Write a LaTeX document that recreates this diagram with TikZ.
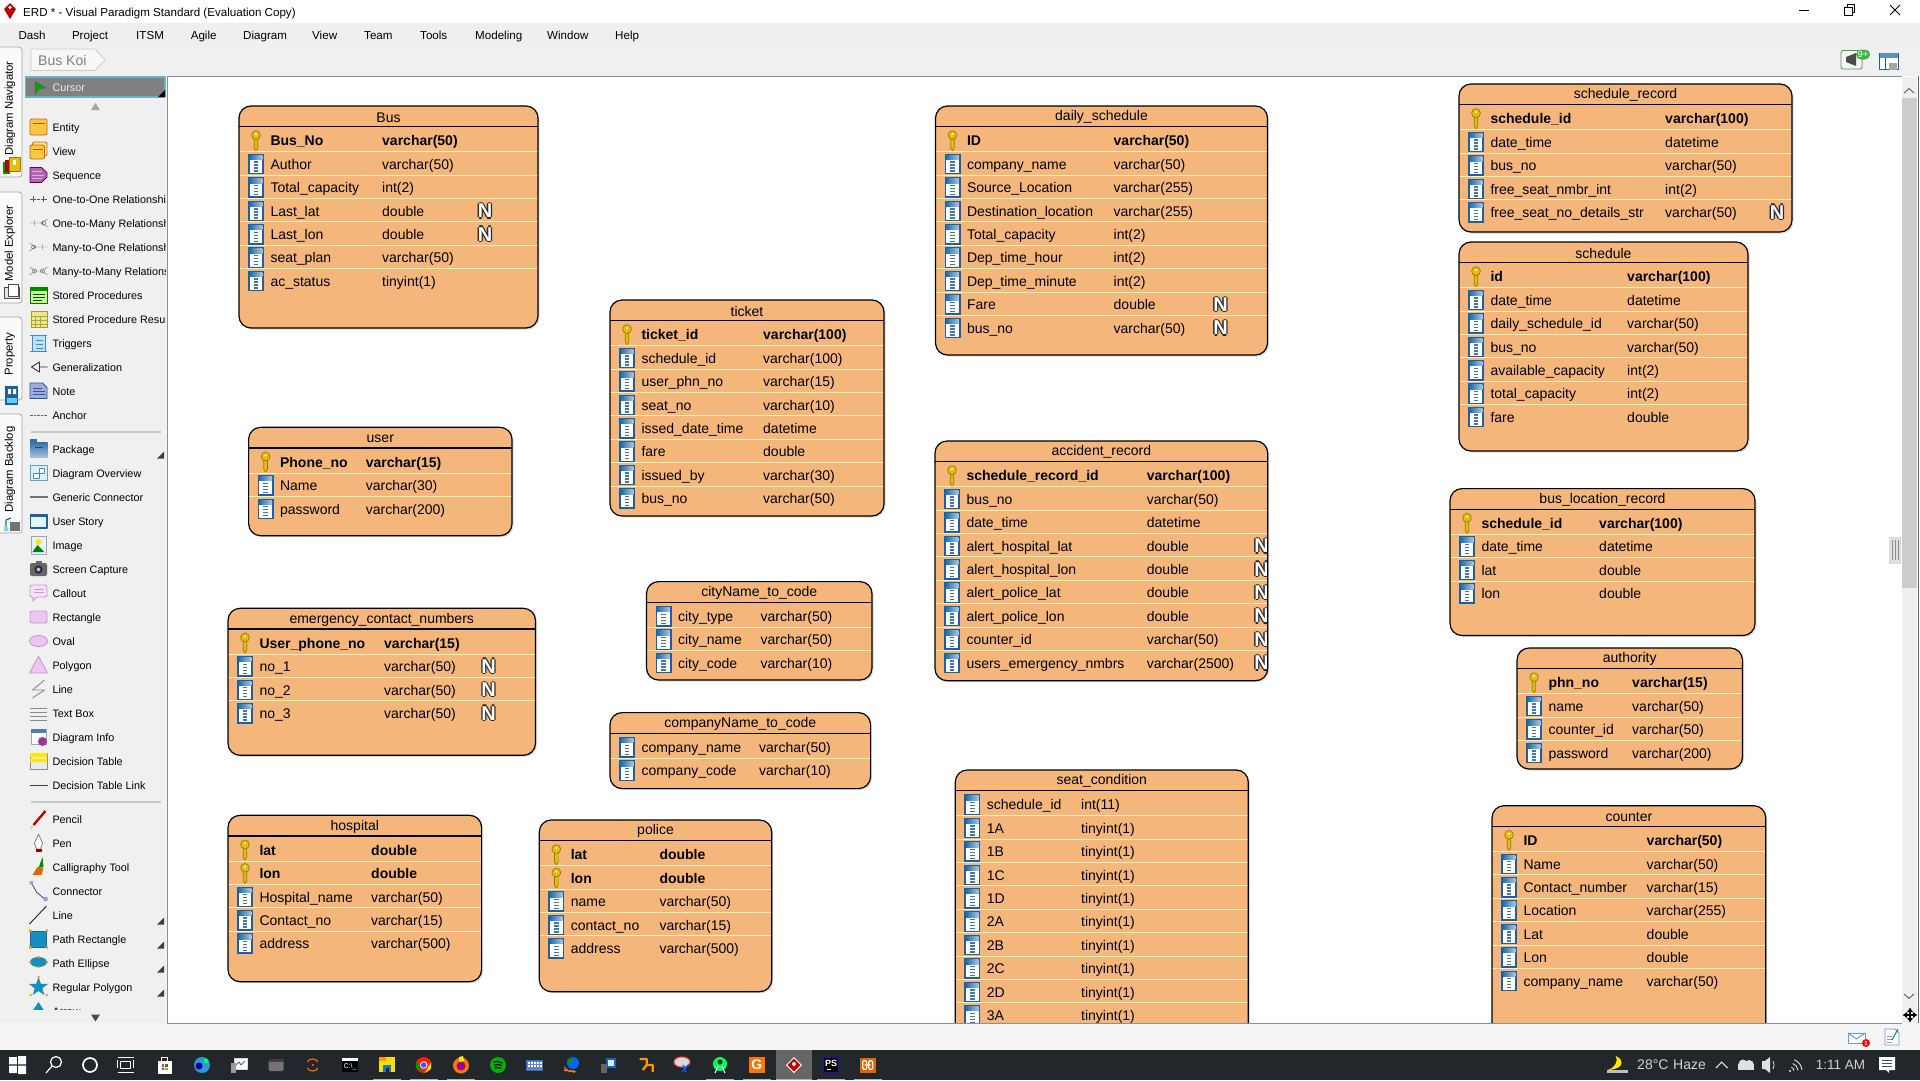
\documentclass[tikz,border=0pt]{standalone}
\usepackage{fontspec}
\setmainfont{Liberation Sans}
\usetikzlibrary{arrows.meta,positioning,calc}
\catcode`\_=12

\definecolor{erdfill}{HTML}{F4B67B}
\definecolor{erdrule}{HTML}{FFF3B8}
\definecolor{iconblue}{HTML}{1C5FA5}
\definecolor{keygold}{HTML}{E6BE0A}
\definecolor{keydark}{HTML}{9A7A10}
\definecolor{paneback}{HTML}{F0F0F0}
\definecolor{menuback}{HTML}{EFEFEF}
\definecolor{edgegray}{HTML}{8C8F94}
\definecolor{pinkfill}{HTML}{EBC8F2}
\definecolor{pinkline}{HTML}{C79AD6}
\definecolor{taskback}{HTML}{22272B}
\definecolor{nullink}{HTML}{2A2A2A}

\tikzset{
  erdtitle/.style={inner sep=0pt,font=\fontsize{14}{16}\selectfont},
  erdfield/.style={anchor=base west,inner sep=0pt,font=\fontsize{14}{16}\selectfont},
  erdkey/.style={anchor=base west,inner sep=0pt,font=\fontsize{14}{16}\selectfont\bfseries},
  erdnull/.style={inner sep=0pt,font=\fontsize{20}{22}\selectfont\bfseries},
  pallabel/.style={anchor=base west,inner sep=0pt,font=\fontsize{10.8}{14}\selectfont},
  menulabel/.style={anchor=base west,inner sep=0pt,font=\fontsize{11.6}{14}\selectfont},
  tablabel/.style={rotate=90,inner sep=0pt,font=\fontsize{11.3}{14}\selectfont},
  traylabel/.style={anchor=west,inner sep=0pt,text=black!18,font=\fontsize{14}{16}\selectfont},
  pics/colicon/.style={code={
    \fill[iconblue] (-8,-10.3) rectangle (8,10.3);
    \fill[white] (-6.4,-4.5) rectangle (6.4,8.8);
    \shade[left color=iconblue!90!cyan,right color=iconblue!35] (-6.4,-8.8) rectangle (6.4,-4.5);
    \foreach \dy in {-2,1,4,7}{\fill[iconblue!85] (-2.4,\dy-.8) rectangle (2.4,\dy+.6);}
  }},
  pics/keyicon/.style={code={
    \fill[keygold,draw=keydark,line width=.7pt] (-1.8,-4) -- (1.8,-4) -- (1.8,7.5) -- (0,10) -- (-1.8,7.5) -- cycle;
    \fill[keygold,draw=keydark,line width=.7pt] (0,-5.6) circle (4.4);
    \fill[white] (0,-6.6) circle (1.1);
  }},
}

\newcommand{\nullglyph}{\textcolor{nullink}{N}}
\newcommand{\nullmark}{\rlap{\kern-1.3pt\nullglyph}\rlap{\kern1.3pt\nullglyph}\rlap{\raisebox{1.3pt}{\nullglyph}}\rlap{\raisebox{-1.3pt}{\nullglyph}}\textcolor{white}{N}}

% name, left, top, right, bottom, type column, N column, title, rows
\newcommand{\erdtable}[9]{
  \fill[black!14,rounded corners=12] (#2+1.5,#3+1.5) rectangle (#4+1.5,#5+1.5);
  \fill[erdfill,rounded corners=12] (#2,#3) rectangle (#4,#5);
  \begin{scope}
    \clip[rounded corners=12] (#2,#3) rectangle (#4,#5);
    \draw[line width=1.2pt] (#2,#3+20.7) -- (#4,#3+20.7);
    \node[erdtitle] (#1) at ({(#2+#4)/2},#3+11.3) {#8};
    \foreach \kind/\field/\dtype [count=\i from 0] in {#9}{
      \pgfmathsetmacro\rowy{#3+20.7+14+23.4*\i}
      \ifnum\i>0 \draw[erdrule,line width=1pt] (#2,\rowy-12.4) -- (#4,\rowy-12.4); \fi
      \def\kindk{k}\def\kindn{n}
      \ifx\kind\kindk
        \pic at (#2+17,\rowy) {keyicon};
        \node[erdkey] (#1-\i-f) at (#2+31.3,\rowy+5.2) {\field};
        \node[erdkey] (#1-\i-t) at (#2+#6,\rowy+5.2) {\dtype};
      \else
        \pic at (#2+17,\rowy) {colicon};
        \node[erdfield] (#1-\i-f) at (#2+31.3,\rowy+5.2) {\field};
        \node[erdfield] (#1-\i-t) at (#2+#6,\rowy+5.2) {\dtype};
      \fi
      \ifx\kind\kindn
        \node[erdnull] (#1-\i-n) at (#2+#7,\rowy) {\nullmark};
      \fi
    }
  \end{scope}
  \draw[line width=1.2pt,rounded corners=12] (#2,#3) rectangle (#4,#5);
}
\newcommand{\palicon}[2]{\begin{scope}[shift={(38.5,#1)}] #2 \end{scope}}
\newcommand{\tbicon}[2]{\begin{scope}[shift={(#1,1065)}] #2 \end{scope}}

\begin{document}
\begin{tikzpicture}[x=1pt,y=-1pt,line join=round]
\useasboundingbox (0,0) rectangle (1920,1080);
\fill[white] (0,0) rectangle (1920,1080);

\erdtable{bus}{239}{106}{538}{328}{143}{246}{Bus}{k/Bus_No/varchar(50), c/Author/varchar(50), c/Total_capacity/int(2), n/Last_lat/double, n/Last_lon/double, c/seat_plan/varchar(50), c/ac_status/tinyint(1)}
\erdtable{dailyschedule}{935.5}{106}{1267.5}{355}{178}{285}{daily_schedule}{k/ID/varchar(50), c/company_name/varchar(50), c/Source_Location/varchar(255), c/Destination_location/varchar(255), c/Total_capacity/int(2), c/Dep_time_hour/int(2), c/Dep_time_minute/int(2), n/Fare/double, n/bus_no/varchar(50)}
\erdtable{schedulerecord}{1459}{84}{1792}{232}{206}{318}{schedule_record}{k/schedule_id/varchar(100), c/date_time/datetime, c/bus_no/varchar(50), c/free_seat_nmbr_int/int(2), n/free_seat_no_details_str/varchar(50)}
\erdtable{schedule}{1459}{242}{1748}{451}{168}{0}{schedule}{k/id/varchar(100), c/date_time/datetime, c/daily_schedule_id/varchar(50), c/bus_no/varchar(50), c/available_capacity/int(2), c/total_capacity/int(2), c/fare/double}
\erdtable{ticket}{610}{300}{884}{516}{153}{0}{ticket}{k/ticket_id/varchar(100), c/schedule_id/varchar(100), c/user_phn_no/varchar(15), c/seat_no/varchar(10), c/issed_date_time/datetime, c/fare/double, c/issued_by/varchar(30), c/bus_no/varchar(50)}
\erdtable{user}{248.6}{427.3}{512}{535.7}{117}{0}{user}{k/Phone_no/varchar(15), c/Name/varchar(30), c/password/varchar(200)}
\erdtable{emergency}{228}{608.3}{535.5}{755.3}{156}{260.6}{emergency_contact_numbers}{k/User_phone_no/varchar(15), n/no_1/varchar(50), n/no_2/varchar(50), n/no_3/varchar(50)}
\erdtable{hospital}{228}{815.3}{481.6}{981.7}{143}{0}{hospital}{k/lat/double, k/lon/double, c/Hospital_name/varchar(50), c/Contact_no/varchar(15), c/address/varchar(500)}
\erdtable{police}{539.3}{820}{771.7}{991.7}{120}{0}{police}{k/lat/double, k/lon/double, c/name/varchar(50), c/contact_no/varchar(15), c/address/varchar(500)}
\erdtable{citycode}{646.5}{581.6}{872}{680}{114}{0}{cityName_to_code}{c/city_type/varchar(50), c/city_name/varchar(50), c/city_code/varchar(10)}
\erdtable{companycode}{610}{712.6}{870.6}{788.6}{149}{0}{companyName_to_code}{c/company_name/varchar(50), c/company_code/varchar(10)}
\erdtable{accident}{935}{441}{1267.7}{680.7}{211.7}{326.5}{accident_record}{k/schedule_record_id/varchar(100), c/bus_no/varchar(50), c/date_time/datetime, n/alert_hospital_lat/double, n/alert_hospital_lon/double, n/alert_police_lat/double, n/alert_police_lon/double, n/counter_id/varchar(50), n/users_emergency_nmbrs/varchar(2500)}
\erdtable{seat}{955.3}{770}{1248.3}{1060}{125.7}{0}{seat_condition}{c/schedule_id/int(11), c/1A/tinyint(1), c/1B/tinyint(1), c/1C/tinyint(1), c/1D/tinyint(1), c/2A/tinyint(1), c/2B/tinyint(1), c/2C/tinyint(1), c/2D/tinyint(1), c/3A/tinyint(1)}
\erdtable{busloc}{1450}{488.6}{1755}{635.5}{149}{0}{bus_location_record}{k/schedule_id/varchar(100), c/date_time/datetime, c/lat/double, c/lon/double}
\erdtable{authority}{1517}{648}{1742.5}{769}{115}{0}{authority}{k/phn_no/varchar(15), c/name/varchar(50), c/counter_id/varchar(50), c/password/varchar(200)}
\erdtable{counter}{1492}{805.7}{1765.7}{1060}{154.5}{0}{counter}{k/ID/varchar(50), c/Name/varchar(50), c/Contact_number/varchar(15), c/Location/varchar(255), c/Lat/double, c/Lon/double, c/company_name/varchar(50)}

% window frame
\fill[white] (0,0) rectangle (1920,23);
\fill[menuback] (0,23) rectangle (1920,45);
\fill[paneback] (0,45) rectangle (1920,76);
\fill[paneback] (0,76) rectangle (167,1023);
\draw[edgegray,line width=1.2pt] (167.5,1023) -- (167.5,76.5) -- (1902,76.5);
\fill[red!75!black] (10,3) -- (16,9) -- (10,19) -- (4,9) -- cycle;
\fill[white] (10,7.5) circle (1.8);
\node[menulabel] (wintitle) at (23,16) {ERD * - Visual Paradigm Standard (Evaluation Copy)};
\draw[line width=1pt] (1799,10) -- (1809,10);
\draw[line width=1pt] (1844.5,7) rectangle (1852,15);
\draw[line width=1pt] (1847,7) -- (1847,4.5) -- (1854.5,4.5) -- (1854.5,12) -- (1852,12);
\draw[line width=1pt] (1890,5) -- (1900,15) (1890,15) -- (1900,5);
\foreach \xpos/\lab [count=\i] in {18.4/Dash,71.8/Project,136/ITSM,190.6/Agile,243/Diagram,312/View,364/Team,420/Tools,475/Modeling,547/Window,615/Help}{
  \node[menulabel] (menu\i) at (\xpos,39.2) {\lab};
}
\draw[black!20,fill=black!3,line width=.8pt] (31,49) -- (95,49) -- (105,60) -- (95,70.5) -- (31,70.5) -- cycle;
\node[menulabel,text=black!50,font=\fontsize{14}{16}\selectfont] (crumb) at (38,65.5) {Bus Koi};

% toolbar, right
\draw[green!45!black!70,fill=black!4,rounded corners=2,line width=.8pt] (1841,50.5) rectangle (1862,69);
\fill[black!70] (1846,57) -- (1856,53) -- (1856,66) -- (1846,62) -- cycle;
\fill[green!60!black!75,rounded corners=5] (1856,49.5) rectangle (1870,59.5);
\node[inner sep=0pt,text=white,font=\fontsize{9}{10}\selectfont] (badge) at (1863,54.5) {9+};
\draw[iconblue,fill=white,line width=1pt] (1879.5,53) rectangle (1898,69);
\fill[iconblue!70] (1879.5,53) rectangle (1898,57.5);
\draw[iconblue,line width=1pt] (1885,57.5) -- (1885,69);
\fill[black!35] (1889,63) rectangle (1897,70);

% tabs
\foreach \ya/\yb in {47/177,192/303,317/400,414/533}{
  \draw[black!35,fill=black!2,rounded corners=3,line width=.8pt] (0,\ya) -- (22,\ya) -- (22,\yb) -- (0,\yb);
}
\node[tablabel] (tabnav) at (10,108.5) {Diagram Navigator};
\node[tablabel] (tabmodel) at (10,243.5) {Model Explorer};
\node[tablabel] (tabprop) at (10,354) {Property};
\node[tablabel] (tabback) at (10,469.5) {Diagram Backlog};
\fill[green!60!black] (3,162) rectangle (10,174);
\fill[red!70!black] (5,160) rectangle (12,172);
\fill[keygold,draw=keydark,line width=.5pt] (9,157) rectangle (20,171);
\fill[white] (13,160) rectangle (16,165);
\draw[black!70,fill=black!10,line width=.9pt] (4,287) rectangle (19,298);
\draw[black!70,fill=white,line width=.8pt] (8,284) rectangle (18,296);
\fill[iconblue] (5,386) rectangle (18,405);
\fill[white] (8,389) rectangle (11,394) (13,389) rectangle (16,394);
\fill[cyan!60] (7,398) rectangle (17,403);
\draw[teal,line width=1.2pt] (6,528) -- (6,520) -- (11,518);
\fill[black!55] (10,522) rectangle (20,531);
\fill[cyan!50] (6,529) circle (2.5);

% palette
\fill[black!50] (25,76.5) rectangle (165.5,97);
\draw[blue!30!cyan!60!black!55,line width=1.6pt] (25.5,77) rectangle (165,97);
\fill[green!65!black,draw=black!60,line width=.5pt] (35,81) -- (46,88) -- (39,89) -- (35,95) -- cycle;
\node[pallabel,text=black!8] (palcursor) at (52.3,91) {Cursor};
\fill[black] (165,90) -- (165,97) -- (158,97) -- cycle;
\fill[black!35] (95.5,103) -- (100,110) -- (91,110) -- cycle;
\fill[black!70] (95.5,1021.5) -- (100,1014.5) -- (91,1014.5) -- cycle;
\draw[black!22,line width=2pt] (31,431.7) -- (161,431.7) (31,801.7) -- (161,801.7);
\foreach \ypos in {455.7,921.7,945.7,969.7,993.7}{
  \fill[black!75] (164,\ypos-4) -- (164,\ypos+3) -- (157,\ypos+3) -- cycle;
}
\begin{scope}
\clip (24,112) rectangle (165.5,1009.5);
\foreach \ypos/\lab [count=\i] in {127/Entity,151/View,175/Sequence,199/One-to-One Relationshi,223/One-to-Many Relationsh,247/Many-to-One Relationsh,271/Many-to-Many Relations,295/Stored Procedures,319/Stored Procedure Resul,343/Triggers,367/Generalization,391/Note,415/Anchor,449/Package,473/Diagram Overview,497/Generic Connector,521/User Story,545/Image,569/Screen Capture,593/Callout,617/Rectangle,641/Oval,665/Polygon,689/Line,713/Text Box,737/Diagram Info,761/Decision Table,785/Decision Table Link,819/Pencil,843/Pen,867/Calligraphy Tool,891/Connector,915/Line,939/Path Rectangle,963/Path Ellipse,987/Regular Polygon,1011/Arrow}{
  \node[pallabel] (pal\i) at (52.3,\ypos+4) {\lab};
}
\palicon{127}{\draw[orange!80!black,fill=orange!60!yellow!75,rounded corners=2,line width=.8pt] (-8.5,-8) rectangle (8.5,8); \draw[orange!70!black] (-6,-3.5) -- (6,-3.5);}
\palicon{151}{\draw[orange!80!black,fill=orange!40!yellow!45,rounded corners=2,line width=.8pt] (-6,-9) rectangle (8.5,5); \draw[orange!80!black,fill=orange!60!yellow!75,rounded corners=2,line width=.8pt] (-8.5,-6) rectangle (6,8); \draw[orange!70!black] (-6,-2) -- (4,-2);}
\palicon{175}{\draw[violet!80!black,fill=violet!60,line width=.8pt] (-8.5,-7.5) -- (3,-7.5) -- (8.5,-2) -- (8.5,2) -- (3,7.5) -- (-8.5,7.5) -- cycle; \draw[white!70!violet] (-7,-3.5) -- (3,-3.5) (-7,0) -- (5,0) (-7,3.5) -- (3,3.5);}
\palicon{199}{\draw[black!65,densely dotted] (-9,0) -- (9,0); \draw[black!65] (-5,-3) -- (-5,3) (5,-3) -- (5,3);}
\palicon{223}{\draw[black!65] (-9,0) -- (5,0) (-4,-3) -- (-4,3) (9,-4) -- (3,0) -- (9,4); \draw[black!65] (5,0) circle (2);}
\palicon{247}{\draw[black!65] (-5,0) -- (9,0) (4,-3) -- (4,3) (-9,-4) -- (-3,0) -- (-9,4); \draw[black!65] (-5,0) circle (2);}
\palicon{271}{\draw[black!65] (-9,-4) -- (-3,0) -- (-9,4) (9,-4) -- (3,0) -- (9,4) (-3,0) -- (3,0); \draw[black!65] (-4,0) circle (2) (4,0) circle (2);}
\palicon{295}{\draw[green!45!black,fill=green!45!yellow!45,line width=.8pt] (-8.5,-8) rectangle (8.5,8); \fill[green!55!black] (-8.5,-8) rectangle (8.5,-4); \draw[green!30!black] (-6,-1) -- (6,-1) (-6,2) -- (6,2) (-6,5) -- (3,5);}
\palicon{319}{\draw[olive!80,fill=yellow!45!olive!35,line width=.8pt] (-7.5,-8) rectangle (8.5,8); \draw[olive!70] (-7.5,-3) -- (8.5,-3) (-7.5,1) -- (8.5,1) (-7.5,5) -- (8.5,5) (-3,-3) -- (-3,8) (2,-3) -- (2,8);}
\palicon{343}{\draw[cyan!40!blue!70,fill=cyan!30,line width=.8pt] (-6,-8) rectangle (7,8); \draw[cyan!40!blue!70,line width=1pt] (-9,-8) -- (8,-8) (-9,8) -- (8,8) (-3,-3) -- (4,-3) (-3,1) -- (4,1) (-3,5) -- (4,5);}
\palicon{367}{\draw[black!80,line width=.9pt] (1,-5) -- (-7,0) -- (1,5) -- cycle (1,0) -- (9,0);}
\palicon{391}{\draw[iconblue,fill=cyan!20!blue!35,line width=.8pt] (-8.5,-8) -- (4,-8) -- (8.5,-3.5) -- (8.5,7.5) -- (-8.5,7.5) -- cycle; \draw[iconblue] (-6,-3) -- (3,-3) (-6,0) -- (6,0) (-6,3) -- (6,3);}
\palicon{415}{\draw[black!60,densely dotted] (-9,0) -- (9,0);}
\palicon{449}{\fill[iconblue!90] (-8.5,-10) rectangle (-2,-5); \shade[top color=iconblue!90,bottom color=iconblue!40] (-8.5,-7) rectangle (9,8); \draw[black!75] (-4,-2) -- (4,-2);}
\palicon{473}{\draw[cyan!50!blue!60,fill=cyan!15,line width=.8pt] (-8.5,-8) rectangle (8.5,7); \draw[iconblue!75,fill=white] (-5,0) rectangle (1,5) (1,-5) rectangle (6,0);}
\palicon{497}{\draw[black!55,line width=1.5pt] (-9,0) -- (9,0);}
\palicon{521}{\draw[iconblue,fill=cyan!12,line width=1.1pt] (-8,-6.5) rectangle (8.5,7); \fill[iconblue] (-8,-6.5) rectangle (8.5,-4.5);}
\palicon{545}{\draw[black!35,fill=cyan!12,line width=.8pt] (-7.5,-9) rectangle (7.5,9); \fill[green!50!black] (-6,7) -- (-1,0) -- (6,7) -- cycle; \fill[yellow!90!orange] (0,-3) circle (3);}
\palicon{569}{\fill[black!60,rounded corners=2] (-8.5,-6) rectangle (8.5,7); \fill[black!60] (-3,-8) rectangle (3,-5); \fill[black!85] (0,0.5) circle (4); \fill[white!70!blue] (0,.5) circle (2);}
\palicon{593}{\draw[pinkline,fill=pinkfill!50,rounded corners=2,line width=.9pt] (-8.5,-8) -- (8.5,-8) -- (8.5,4) -- (-3,4) -- (-6,9) -- (-5,4) -- (-8.5,4) -- cycle; \draw[pinkline] (-5,-4) -- (5,-4) (-5,-1) -- (5,-1);}
\palicon{617}{\draw[pinkline,fill=pinkfill,rounded corners=2,line width=.9pt] (-8.5,-6) rectangle (8.5,6);}
\palicon{641}{\draw[pinkline,fill=pinkfill,line width=.9pt] (0,0) ellipse (9 and 5.5);}
\palicon{665}{\draw[pinkline,fill=pinkfill,line width=.9pt] (0,-8.5) -- (9,8) -- (-9,8) -- cycle;}
\palicon{689}{\draw[black!45,line width=.9pt] (6,-9) -- (-6,1) -- (6,1) -- (-6,9);}
\palicon{713}{\draw[black!45,line width=.9pt] (-8.5,-5) -- (8.5,-5) (-8.5,-1) -- (8.5,-1) (-8.5,3) -- (8.5,3) (-8.5,7) -- (8.5,7);}
\palicon{737}{\draw[black!35,fill=white,line width=.8pt] (-7.5,-8) rectangle (7.5,7); \fill[iconblue!80] (-7.5,-8) rectangle (7.5,-4); \fill[violet!80] (4,4.5) circle (4.5);}
\palicon{761}{\draw[black!45,fill=black!8,line width=.8pt] (-8.5,-8) rectangle (8.5,8); \fill[yellow!90!orange] (-8.5,-8) rectangle (8.5,-4) (-8.5,-2.5) rectangle (8.5,1);}
\palicon{785}{\draw[black!75,line width=1pt] (-9,0) -- (9,0);}
\palicon{819}{\draw[red!75!black,line width=2.4pt] (7,-8) -- (-5,6); \draw[orange!50,line width=1.4pt] (-6,7) -- (-8,9.5);}
\palicon{843}{\draw[black!50,fill=white,line width=.8pt] (0,-9) -- (4,0) -- (2,6) -- (-2,6) -- (-4,0) -- cycle; \fill[red!60!black] (-3,6) rectangle (3,9);}
\palicon{867}{\fill[green!55!black] (4,-10) -- (5,0) -- (0,1) -- cycle; \fill[orange!85!black] (-1,0) -- (5,1) -- (3,8) -- (-6,8) -- cycle;}
\palicon{891}{\draw[black!70,line width=.8pt] (-7,-8) -- (-2,1) -- (6,8); \fill[cyan!40!blue!45] (-9,-10) rectangle (-5.5,-6.5) (5,6) rectangle (9,10);}
\palicon{915}{\draw[black!85,line width=.9pt] (-9,9) -- (8,-9);}
\palicon{939}{\fill[iconblue!70!cyan,draw=iconblue,line width=.8pt] (-8,-8) rectangle (8,8); \fill[orange!80!yellow] (-9.5,-9.5) rectangle (-7,-7) (7,-9.5) rectangle (9.5,-7) (-9.5,7) rectangle (-7,9.5) (7,7) rectangle (9.5,9.5);}
\palicon{963}{\fill[iconblue!70!cyan] (0,-1) ellipse (8.5 and 5); \fill[orange!80!yellow] (-1.2,-7) rectangle (1.2,-4.8) (-1.2,3) rectangle (1.2,5.2) (-9.5,-2) rectangle (-7.5,0) (7.5,-2) rectangle (9.5,0);}
\palicon{987}{\fill[iconblue!70!cyan] (-90:10) -- (-54:4) -- (-18:10) -- (18:4) -- (54:10) -- (90:4) -- (126:10) -- (162:4) -- (198:10) -- (234:4) -- cycle; \fill[orange!80!yellow] (-1,-11) rectangle (1,-9) (-9,7) rectangle (-7,9) (7,7) rectangle (9,9);}
\palicon{1011}{\fill[iconblue!70!cyan] (0,-9) -- (6,0) -- (-6,0) -- cycle;}
\end{scope}

% scrollbar
\fill[menuback] (1902,76.5) rectangle (1917,1023);
\fill[black!20] (1902,98) rectangle (1917,587.7);
\draw[black!60,line width=.8pt] (1918.5,76) -- (1918.5,1023);
\draw[black!60,line width=1pt] (1904,93) -- (1909,88.5) -- (1914,93);
\draw[black!60,line width=1pt] (1904,994) -- (1909,998.5) -- (1914,994);
\draw[black!15,fill=black!12,line width=.8pt] (1889.5,537) rectangle (1900.5,563);
\foreach \xpos in {1892,1895,1898}{\draw[black!45,line width=.8pt] (\xpos,540) -- (\xpos,560);}
\draw[line width=1.8pt,{Latex[length=4.5pt,width=6.5pt]}-{Latex[length=4.5pt,width=6.5pt]}] (1910,1007.5) -- (1910,1022.5);
\draw[line width=1.8pt,{Latex[length=4.5pt,width=6.5pt]}-{Latex[length=4.5pt,width=6.5pt]}] (1902.5,1015) -- (1917.5,1015);

% status bar
\fill[black!4] (0,1023) rectangle (1920,1050);
\draw[edgegray,line width=1.2pt] (167,1023.3) -- (1902,1023.3);
\draw[cyan!50!blue!60,fill=white,line width=1pt] (1848,1033) rectangle (1865,1043.5);
\draw[cyan!50!blue!60,line width=1pt] (1848,1033) -- (1856.5,1039) -- (1865,1033);
\fill[red] (1866,1043) circle (4);
\node[inner sep=0pt,text=white,font=\fontsize{6}{7}\selectfont\bfseries] (mailcount) at (1866,1043) {1};
\draw[cyan!50!blue!60,fill=white,line width=.9pt] (1885,1029) -- (1895,1029) -- (1899,1033) -- (1899,1045) -- (1885,1045) -- cycle;
\draw[black!40] (1887,1036) -- (1892,1036) (1887,1039) -- (1892,1039) (1887,1042) -- (1892,1042);
\draw[teal,line width=1pt] (1892,1040) -- (1898,1029);

% taskbar
\fill[taskback] (0,1050) rectangle (1920,1080);
\fill[black!60!white] (776,1050) rectangle (812,1080);
\foreach \xa/\xb in {373/401,410/438,447/475,706/734,743/771,776/812,817/845,854/882}{
  \fill[black!30] (\xa,1078.5) rectangle (\xb,1080);
}
\tbicon{17.5}{\fill[white] (-8.5,-8) rectangle (-.7,-.7) (.7,-9) rectangle (8.5,-.7) (-8.5,.7) rectangle (-.7,8) (.7,.7) rectangle (8.5,9);}
\tbicon{54}{\draw[white,line width=1.2pt] (2,-3) circle (5.5) (-2,1) -- (-8,8);}
\tbicon{90}{\draw[white,line width=1.7pt] (0,0) circle (7);}
\tbicon{125.7}{\draw[white,line width=1pt] (-5,-4) rectangle (5,3.5) (-8,-8) -- (8,-8) (-8,7) -- (8,7) (-8,-5) -- (-8,3) (8,-5) -- (8,3);}
\tbicon{164.5}{\fill[white] (-7,-4) rectangle (7,9); \draw[white] (-3,-4) -- (-3,-8) -- (3,-8) -- (3,-4); \fill[red!80] (-3,-1) rectangle (-.3,2); \fill[green!60!black] (.3,-1) rectangle (3,2); \fill[blue!70] (-3,2.5) rectangle (-.3,5); \fill[orange] (.3,2.5) rectangle (3,5);}
\tbicon{202}{\fill[cyan!70!blue!85] (0,0) circle (8); \fill[blue!60!black] (-3,1) circle (3.5); \fill[green!60!cyan] (4,-4) circle (2.5);}
\tbicon{239}{\draw[black!15,fill=white,line width=.8pt] (-5,-7) rectangle (8,4); \draw[blue!70,line width=.9pt] (-3,0) -- (0,-3) -- (2,0) -- (6,-4); \fill[black!40] (-8,-2) rectangle (-3,8);}
\tbicon{276}{\fill[black!55,rounded corners=1.5] (-7.5,-6) rectangle (7.5,6); \fill[black!75] (-7.5,-6) rectangle (7.5,-3);}
\tbicon{312.6}{\draw[orange!90!black,line width=1.2pt] (-5,-3) arc (180:360:5 and 3) (-5,3) arc (180:0:5 and 3); \fill[red!80] (-1,-1) rectangle (1,1);}
\tbicon{350}{\fill[black] (-8,-7) rectangle (8,7); \fill[white] (-8,-7) rectangle (8,-4.5); \node[inner sep=0pt,text=white,font=\fontsize{7}{8}\selectfont] (tbcmd) at (0,1.5) {C:\textbackslash\_};}
\tbicon{387}{\fill[yellow!80!orange] (-8,-8) rectangle (8,7); \fill[orange!80!yellow] (-8,-8) rectangle (-1,-4); \fill[cyan!60!blue] (-4,0) rectangle (4,7); \fill[taskback] (-1.5,3) rectangle (1.5,7);}
\tbicon{423.7}{\fill[red!80!orange] (0,0) circle (8); \fill[green!60!black] (-7,-4) -- (0,8) -- (-8,2) -- cycle; \fill[yellow!90!orange] (7.5,-3) -- (1,8) -- (7,4) -- cycle; \fill[white] (0,0) circle (3.8); \fill[blue!70] (0,0) circle (2.8);}
\tbicon{461}{\fill[orange!90!red] (0,.5) circle (8); \fill[violet!80!magenta] (0,1) circle (4.5); \fill[yellow!90!orange] (-2,-8) -- (2,-9) -- (3,-4) -- (-2,-3) -- cycle;}
\tbicon{498}{\fill[green!70!black] (0,0) circle (8); \draw[black,line width=1.2pt] (-4.5,-3) .. controls (-1,-4) and (2,-3.5) .. (4.5,-2) (-4,0) .. controls (-1,-1) and (2,-.5) .. (4,.8) (-3.5,2.8) .. controls (-1,2) and (1,2.5) .. (3.2,3.5);}
\tbicon{534.7}{\draw[cyan!60!blue,fill=cyan!25!blue!60,line width=.8pt] (-8,-5) rectangle (8,5); \foreach \kx in {-6,-3,0,3,6}{\fill[white] (\kx-.8,-3) rectangle (\kx+.8,-1); \fill[white] (\kx-.8,.2) rectangle (\kx+.8,2.2);}}
\tbicon{572}{\fill[blue!60!cyan] (1,-2) circle (6); \fill[green!60!black] (-2,-4) circle (2.5); \draw[orange,line width=1.6pt,-{Latex[length=4pt]}] (-8,5) -- (5,7); \draw[red!70,line width=1.2pt] (-8,2) -- (-2,7);}
\tbicon{609}{\fill[cyan!40!blue] (-3,-7) rectangle (7,3); \fill[white!80!cyan] (-1,-5) rectangle (5,1); \fill[black!60] (-8,-1) rectangle (-2,8);}
\tbicon{646.7}{\draw[orange!85!yellow,line width=2.4pt] (-7,-6) -- (0,-6) -- (0,0) -- (6,0) -- (6,7) (0,0) -- (-4,5);}
\tbicon{683}{\draw[red!70,fill=white!85!black,line width=1pt] (-1,-3) ellipse (8 and 5); \draw[blue!60!cyan,line width=1.2pt] (0,0) -- (3,7) (6,-1) -- (-1,7);}
\tbicon{720}{\fill[green!65!cyan] (0,-1) circle (7); \fill[black!85] (0,-3) circle (2.6); \draw[white,line width=1pt] (-5,8) -- (-2,1) (5,8) -- (2,1);}
\tbicon{756.7}{\fill[orange!90!red] (-8,-8) rectangle (8,8); \node[inner sep=0pt,text=white,font=\fontsize{14}{15}\selectfont\bfseries] (tbfox) at (0,0) {G};}
\tbicon{794}{\fill[white] (0,-8) -- (8,0) -- (0,8) -- (-8,0) -- cycle; \fill[red!80!black] (0,-6.5) -- (6.5,0) -- (0,6.5) -- (-6.5,0) -- cycle; \fill[white] (0,-1) circle (2);}
\tbicon{831}{\draw[blue!60!violet,fill=black,line width=1.1pt] (-7.5,-7.5) rectangle (7.5,7.5); \node[inner sep=0pt,text=white,font=\fontsize{9}{10}\selectfont\bfseries] (tbstorm) at (0,-2) {PS}; \draw[white,line width=1pt] (-4.5,4.5) -- (0,4.5);}
\tbicon{867.7}{\fill[orange!85!red!90!black] (-8,-7.5) rectangle (8,7.5); \draw[white,line width=1.2pt,rounded corners=2] (-5,-4.5) rectangle (-1,4.5) (1,-4.5) rectangle (5,4.5) (-3,0) -- (3,0);}
\begin{scope}[shift={(1616.7,1065)}]
\fill[yellow!90!orange] (-9,5) .. controls (-3,3) and (2,-2) .. (-1,-9) .. controls (7,-6) and (9,4) .. (-9,5);
\fill[black!25] (-10,5) rectangle (11,8);
\end{scope}
\node[traylabel] (traytemp) at (1637,1065) {28°C};
\node[traylabel] (trayhaze) at (1673,1065) {Haze};
\draw[black!12,line width=1.1pt] (1716,1068) -- (1721.7,1062) -- (1727.5,1068);
\fill[black!12] (1738,1064) rectangle (1754,1070); \fill[black!12] (1743,1064) circle (4.5) (1749,1065) circle (5);
\fill[black!12] (1762,1061) rectangle (1765,1069) (1765,1061) -- (1770,1057) -- (1770,1073) -- (1765,1069) -- cycle;
\draw[black!12,line width=.8pt] (1773,1061) arc (-30:30:8);
\begin{scope}[shift={(1790,1071)}]
\foreach \wr in {4,8,12}{\draw[black!12,line width=.9pt] (-70:\wr) arc (-70:-5:\wr);}
\fill[black!12] (0,0) circle (1.2);
\end{scope}
\node[traylabel,font=\fontsize{13.5}{16}\selectfont] (trayclock) at (1815.7,1065) {1:11 AM};
\fill[white] (1879,1057) rectangle (1895,1070) (1886,1070) -- (1889,1073) -- (1889,1070) -- cycle;
\draw[black!70] (1882,1060) -- (1892,1060) (1882,1063) -- (1892,1063) (1882,1066) -- (1892,1066);
\end{tikzpicture}
\end{document}
